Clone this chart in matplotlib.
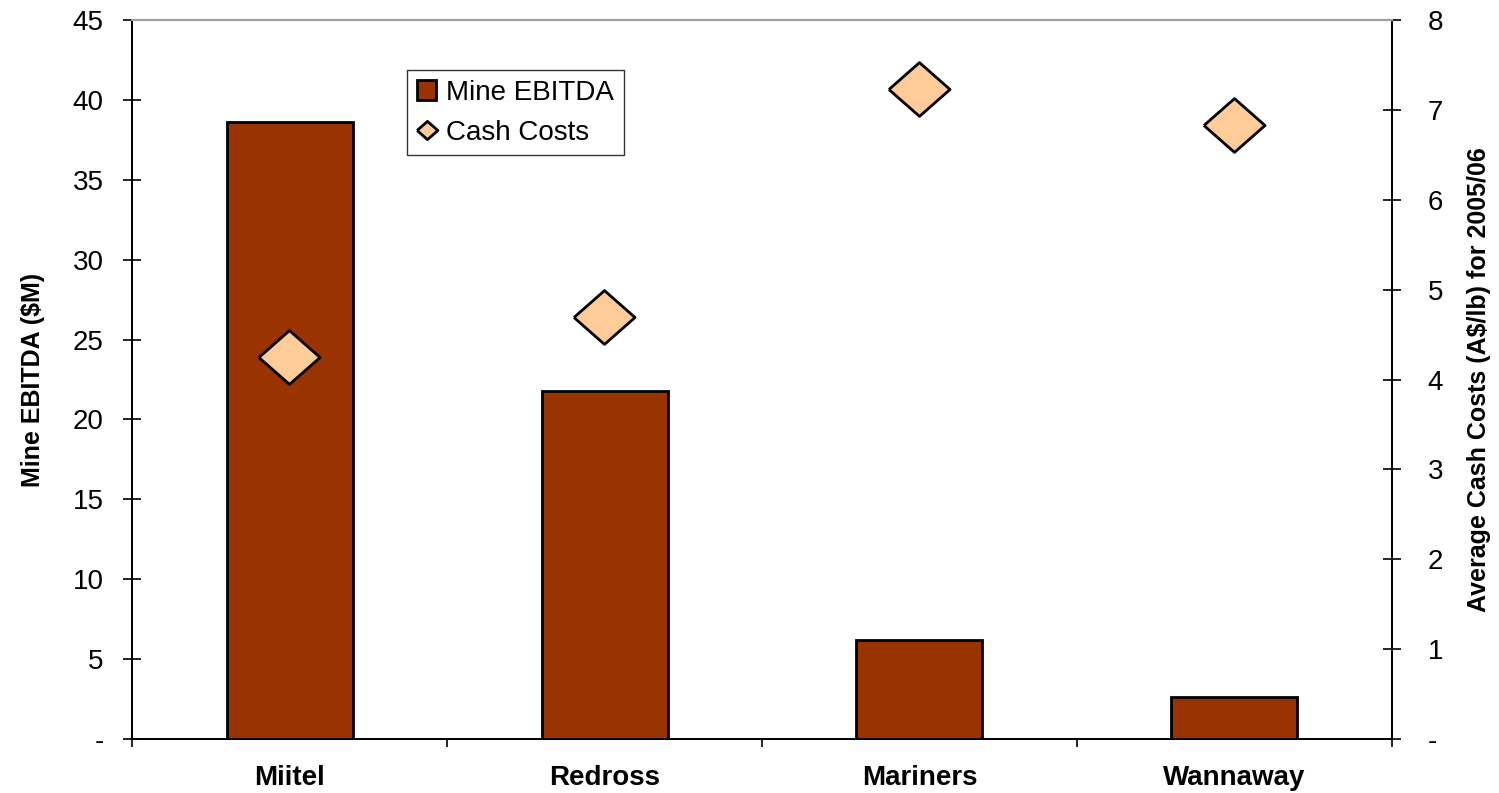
import numpy as np
import matplotlib.pyplot as plt

plt.rcParams['font.family'] = ['Liberation Sans', 'DejaVu Sans']

# mine data
mines = ['Miitel', 'Redross', 'Mariners', 'Wannaway']
ebitda = [38.6, 21.8, 6.2, 2.6]          # $M
cash_costs = [4.25, 4.70, 7.23, 6.83]    # A$/lb, 2005/06

x = np.arange(len(mines))

fig = plt.figure(figsize=(14.99, 7.93), dpi=100)
ax = fig.add_axes([132/1499, 54/793, 1260/1499, 719/793])
ax2 = ax.twinx()

bars = ax.bar(x, ebitda, width=0.4, color='#993300', edgecolor='black',
              linewidth=2, label='Mine EBITDA', zorder=2)

# diamond slightly wider than tall
diamond = [(-1, 0), (0, 0.88), (1, 0), (0, -0.88), (-1, 0)]
pts, = ax2.plot(x, cash_costs, linestyle='none', marker=diamond,
                markersize=44, markerfacecolor='#FFCC99',
                markeredgecolor='black', markeredgewidth=2,
                label='Cash Costs', zorder=3)

ax.set_xlim(-0.5, 3.5)
ax.set_ylim(0, 45)
ax2.set_ylim(0, 8)

ax.set_yticks(np.arange(0, 46, 5))
ax.set_yticklabels(['-'] + [str(v) for v in range(5, 46, 5)])
ax2.set_yticks(np.arange(0, 9, 1))
ax2.set_yticklabels(['-'] + [str(v) for v in range(1, 9)])

ax.set_xticks(x)
ax.set_xticklabels(mines, fontsize=20, fontweight='bold')
ax.set_xticks(np.arange(-0.5, 4, 1), minor=True)
ax.tick_params(axis='x', which='major', length=0, pad=19)
ax.tick_params(axis='x', which='minor', direction='out', length=6, width=1.2)
ax.tick_params(axis='y', direction='inout', length=13, width=1.2,
               labelsize=20, pad=14)
ax2.tick_params(axis='y', direction='inout', length=13, width=1.2,
                labelsize=20, pad=19)

for a in (ax, ax2):
    a.spines['top'].set_color('#a0a0a0')
    a.spines['top'].set_linewidth(1.5)
    for s in ('left', 'right', 'bottom'):
        a.spines[s].set_linewidth(1.3)

ax.set_ylabel('Mine EBITDA ($M)', fontsize=18, fontweight='bold', labelpad=20)
ax2.set_ylabel('Average Cash Costs (A$/lb) for 2005/06', fontsize=18,
               fontweight='bold', labelpad=17)

leg = ax.legend([bars, pts], ['Mine EBITDA', 'Cash Costs'],
                loc='upper left', bbox_to_anchor=(0.2183, 0.9305),
                borderaxespad=0, fontsize=20, frameon=True, fancybox=False,
                edgecolor='black', handlelength=0.7, handletextpad=0.35,
                borderpad=0.35, labelspacing=0.5, markerscale=0.34)
leg.get_frame().set_linewidth(1.0)

fig.savefig('out.png', dpi=100)
